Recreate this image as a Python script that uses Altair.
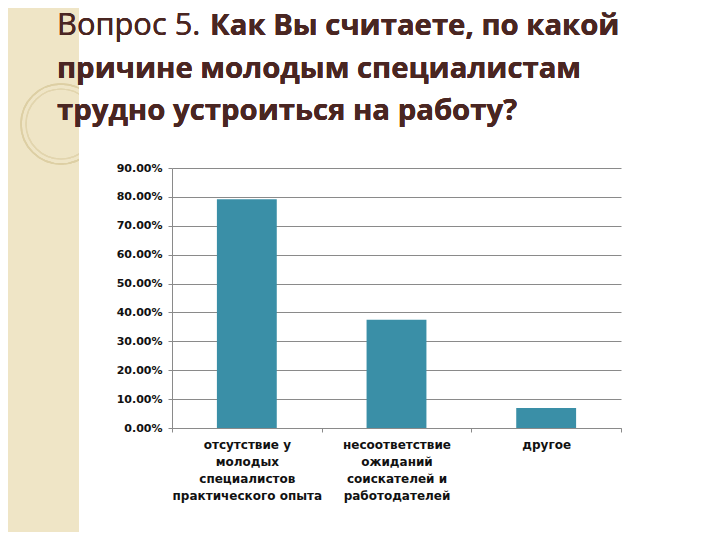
import altair as alt
import pandas as pd

# ---- data ----
categories = [
    "отсутствие у\nмолодых\nспециалистов\nпрактического опыта",
    "несоответствие\nожиданий\nсоискателей и\nработодателей",
    "другое",
]
values = [0.7917, 0.375, 0.0694]
y_ticks = [0.0, 0.1, 0.2, 0.3, 0.4, 0.5, 0.6, 0.7, 0.8, 0.9]

title_normal = "Вопрос 5."
title_bold_lines = [
    "Как Вы считаете, по какой",
    "причине молодым специалистам",
    "трудно устроиться на работу?",
]

df = pd.DataFrame({"cat": categories, "val": values})

BAR = "#3A8FA7"
GRID = "#8A8A8A"
TITLE = "#4A2622"
TFS = 29.3

W, H = 449, 260
PL, PT = 164, 160
PR = 704 - PL - W
PB = 524 - PT - H

base = alt.Chart(df)

strip = base.mark_rect(color="#EFE5C6").encode(
    x=alt.value(-PL), x2=alt.value(79 - 172),
    y=alt.value(-PT), y2=alt.value(H + PB),
)
ring1 = base.mark_point(shape="circle", filled=False, size=6400,
                        stroke="#DDCFA4", strokeWidth=1.5, opacity=1).encode(
    x=alt.value(61 - 172), y=alt.value(124 - 168))
ring2 = base.mark_point(shape="circle", filled=False, size=4900,
                        stroke="#E2D5AE", strokeWidth=1.2, opacity=1).encode(
    x=alt.value(61 - 172), y=alt.value(124 - 168))
cover = base.mark_rect(color="white").encode(
    x=alt.value(79 - 172), x2=alt.value(112 - 172),
    y=alt.value(70 - 168), y2=alt.value(167 - 168),
)

bars = base.mark_bar(color=BAR, width=alt.RelativeBandSize(0.4)).encode(
    x=alt.X("cat:N", sort=categories, title=None,
            scale=alt.Scale(paddingInner=0, paddingOuter=0),
            axis=alt.Axis(labelAngle=0, tickBand="extent", tickSize=4,
                          tickColor=GRID, domainColor=GRID,
                          labelExpr="split(datum.label, '\\n')",
                          labelFont="DejaVu Sans", labelFontWeight="bold",
                          labelFontSize=12, labelColor="#111111",
                          labelLineHeight=17, labelPadding=7,
                          labelBaseline="top", grid=False)),
    y=alt.Y("val:Q", title=None,
            scale=alt.Scale(domain=[0, 0.9], nice=False),
            axis=alt.Axis(values=y_ticks, format=".2%", tickSize=4,
                          tickColor=GRID, domainColor=GRID, gridColor=GRID,
                          grid=True, labelFont="DejaVu Sans", labelFontSize=11,
                          labelFontWeight="bold",
                          labelColor="#111111", labelPadding=6)),
)

def title_text(txt, weight, x, y, fs=TFS):
    return base.mark_text(text=txt, font="Open Sans", fontSize=fs,
                          fontWeight=weight, color=TITLE, align="left",
                          baseline="alphabetic").encode(
        x=alt.value(x - 172), y=alt.value(y - 168))

t0 = title_text(title_normal, "normal", 57, 35, fs=30.8)
t1 = title_text(title_bold_lines[0], "bold", 210, 35)
t2 = title_text(title_bold_lines[1], "bold", 57, 78)
t3 = title_text(title_bold_lines[2], "bold", 57, 120)

chart = alt.layer(strip, ring1, ring2, cover, bars, t0, t1, t2, t3).properties(
    width=W, height=H,
    padding={"left": PL, "top": PT, "right": PR, "bottom": PB},
    autosize=alt.AutoSizeParams(type="none"),
    background="white",
).configure_view(stroke=None)

chart.save("out.html", embed_options={"renderer": "svg", "actions": False})
